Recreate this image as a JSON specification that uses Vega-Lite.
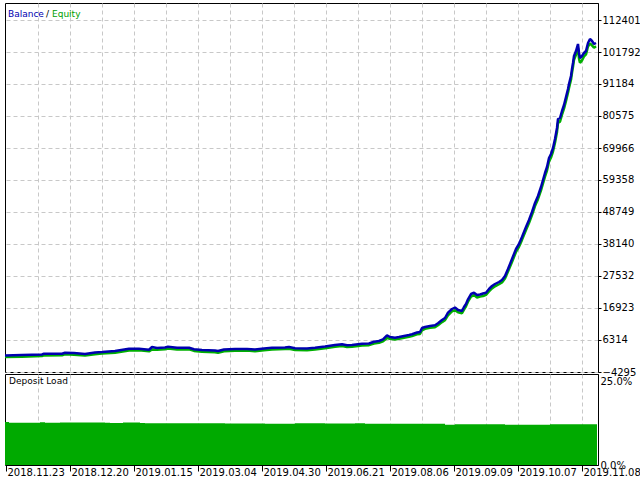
{
  "$schema": "https://vega.github.io/schema/vega-lite/v6.json",
  "background": "white",
  "padding": {"left": 3, "top": 2, "right": 0, "bottom": 0},
  "autosize": {"type": "pad"},
  "bounds": "flush",
  "spacing": 2,
  "config": {
    "view": {"stroke": "black", "strokeWidth": 1},
    "font": "DejaVu Sans",
    "axis": {
      "labelFont": "DejaVu Sans",
      "labelFontSize": 10,
      "labelColor": "black",
      "gridColor": "#c8c8c8",
      "gridDash": [4, 3],
      "gridWidth": 1,
      "domainColor": "black",
      "tickColor": "black",
      "labelOverlap": false,
      "labelFlush": false,
      "labelBound": false
    }
  },
  "datasets": {
    "curve": [
      {"deal": 0, "balance": 1175, "equity": 700},
      {"deal": 17, "balance": 1341, "equity": 800},
      {"deal": 37, "balance": 1507, "equity": 1000},
      {"deal": 39, "balance": 1772, "equity": 1200},
      {"deal": 57, "balance": 1772, "equity": 1250},
      {"deal": 60, "balance": 2103, "equity": 1550},
      {"deal": 69, "balance": 2004, "equity": 1450},
      {"deal": 80, "balance": 1672, "equity": 1150},
      {"deal": 90, "balance": 2170, "equity": 1600},
      {"deal": 97, "balance": 2335, "equity": 1800},
      {"deal": 110, "balance": 2667, "equity": 2100},
      {"deal": 124, "balance": 3429, "equity": 2850},
      {"deal": 134, "balance": 3429, "equity": 2900},
      {"deal": 144, "balance": 3098, "equity": 2550},
      {"deal": 147, "balance": 3993, "equity": 3200},
      {"deal": 152, "balance": 3662, "equity": 3100},
      {"deal": 160, "balance": 3827, "equity": 3250},
      {"deal": 163, "balance": 4093, "equity": 3500},
      {"deal": 172, "balance": 3761, "equity": 3200},
      {"deal": 184, "balance": 3761, "equity": 3200},
      {"deal": 189, "balance": 3231, "equity": 2700},
      {"deal": 197, "balance": 2998, "equity": 2450},
      {"deal": 210, "balance": 2833, "equity": 2250},
      {"deal": 213, "balance": 2667, "equity": 2100},
      {"deal": 219, "balance": 3164, "equity": 2600},
      {"deal": 230, "balance": 3330, "equity": 2750},
      {"deal": 242, "balance": 3330, "equity": 2800},
      {"deal": 250, "balance": 3164, "equity": 2600},
      {"deal": 259, "balance": 3496, "equity": 2950},
      {"deal": 267, "balance": 3761, "equity": 3200},
      {"deal": 280, "balance": 3827, "equity": 3300},
      {"deal": 284, "balance": 3993, "equity": 3400},
      {"deal": 290, "balance": 3562, "equity": 3000},
      {"deal": 302, "balance": 3496, "equity": 2950},
      {"deal": 310, "balance": 3761, "equity": 3200},
      {"deal": 320, "balance": 4159, "equity": 3600},
      {"deal": 330, "balance": 4656, "equity": 4050},
      {"deal": 337, "balance": 4888, "equity": 4300},
      {"deal": 342, "balance": 4557, "equity": 4000},
      {"deal": 347, "balance": 4656, "equity": 4100},
      {"deal": 357, "balance": 5087, "equity": 4500},
      {"deal": 364, "balance": 5153, "equity": 4600},
      {"deal": 369, "balance": 5750, "equity": 5150},
      {"deal": 374, "balance": 5982, "equity": 5400},
      {"deal": 378, "balance": 6546, "equity": 5900},
      {"deal": 382, "balance": 7872, "equity": 7000},
      {"deal": 385, "balance": 7308, "equity": 6700},
      {"deal": 390, "balance": 7076, "equity": 6500},
      {"deal": 394, "balance": 7308, "equity": 6700},
      {"deal": 399, "balance": 7640, "equity": 7050},
      {"deal": 404, "balance": 7971, "equity": 7350},
      {"deal": 407, "balance": 8203, "equity": 7600},
      {"deal": 412, "balance": 8800, "equity": 8200},
      {"deal": 415, "balance": 8966, "equity": 8300},
      {"deal": 417, "balance": 10292, "equity": 9500},
      {"deal": 420, "balance": 10624, "equity": 10000},
      {"deal": 425, "balance": 10955, "equity": 10350},
      {"deal": 430, "balance": 11187, "equity": 10550},
      {"deal": 433, "balance": 11850, "equity": 11200},
      {"deal": 437, "balance": 12944, "equity": 12250},
      {"deal": 440, "balance": 13607, "equity": 12900},
      {"deal": 443, "balance": 15364, "equity": 14500},
      {"deal": 447, "balance": 16591, "equity": 15800},
      {"deal": 450, "balance": 17088, "equity": 16200},
      {"deal": 453, "balance": 16259, "equity": 15500},
      {"deal": 457, "balance": 15928, "equity": 15200},
      {"deal": 459, "balance": 17254, "equity": 16400},
      {"deal": 461, "balance": 18248, "equity": 17500},
      {"deal": 463, "balance": 19807, "equity": 19000},
      {"deal": 466, "balance": 21564, "equity": 20700},
      {"deal": 469, "balance": 21995, "equity": 21200},
      {"deal": 472, "balance": 21232, "equity": 20400},
      {"deal": 475, "balance": 21398, "equity": 20700},
      {"deal": 478, "balance": 21729, "equity": 20900},
      {"deal": 481, "balance": 21995, "equity": 21300},
      {"deal": 484, "balance": 23221, "equity": 22400},
      {"deal": 487, "balance": 24216, "equity": 23400},
      {"deal": 490, "balance": 24879, "equity": 24100},
      {"deal": 494, "balance": 25542, "equity": 24800},
      {"deal": 497, "balance": 26205, "equity": 25400},
      {"deal": 500, "balance": 27531, "equity": 26700},
      {"deal": 503, "balance": 29852, "equity": 29000},
      {"deal": 507, "balance": 33167, "equity": 32200},
      {"deal": 511, "balance": 36482, "equity": 35500},
      {"deal": 514, "balance": 38140, "equity": 37200},
      {"deal": 517, "balance": 40460, "equity": 39500},
      {"deal": 521, "balance": 43776, "equity": 42800},
      {"deal": 524, "balance": 46096, "equity": 45100},
      {"deal": 527, "balance": 48748, "equity": 47700},
      {"deal": 530, "balance": 51732, "equity": 50700},
      {"deal": 533, "balance": 54053, "equity": 53000},
      {"deal": 536, "balance": 57036, "equity": 55900},
      {"deal": 538, "balance": 59357, "equity": 58200},
      {"deal": 540, "balance": 61678, "equity": 60500},
      {"deal": 542, "balance": 63667, "equity": 62500},
      {"deal": 544, "balance": 66650, "equity": 65400},
      {"deal": 546, "balance": 67976, "equity": 66800},
      {"deal": 548, "balance": 69966, "equity": 68800},
      {"deal": 550, "balance": 72949, "equity": 71700},
      {"deal": 552, "balance": 76596, "equity": 75300},
      {"deal": 553, "balance": 79580, "equity": 78300},
      {"deal": 555, "balance": 79911, "equity": 78700},
      {"deal": 557, "balance": 82232, "equity": 81000},
      {"deal": 559, "balance": 84221, "equity": 83000},
      {"deal": 561, "balance": 86873, "equity": 85600},
      {"deal": 563, "balance": 89525, "equity": 88300},
      {"deal": 564, "balance": 91183, "equity": 89900},
      {"deal": 566, "balance": 93835, "equity": 92600},
      {"deal": 567, "balance": 96156, "equity": 94900},
      {"deal": 568, "balance": 98145, "equity": 96900},
      {"deal": 569, "balance": 100465, "equity": 99200},
      {"deal": 571, "balance": 102123, "equity": 100900},
      {"deal": 573, "balance": 104444, "equity": 103200},
      {"deal": 574, "balance": 101460, "equity": 99600},
      {"deal": 575, "balance": 99802, "equity": 98200},
      {"deal": 577, "balance": 100465, "equity": 99000},
      {"deal": 579, "balance": 101460, "equity": 100300},
      {"deal": 581, "balance": 102123, "equity": 101000},
      {"deal": 583, "balance": 104775, "equity": 103600},
      {"deal": 585, "balance": 106101, "equity": 104600},
      {"deal": 587, "balance": 105438, "equity": 104000},
      {"deal": 589, "balance": 104444, "equity": 103200},
      {"deal": 591, "balance": 104775, "equity": 103700}
    ],
    "load": [
      {"deal": 0, "load": 12.9},
      {"deal": 4, "load": 12.7},
      {"deal": 35, "load": 12.8},
      {"deal": 40, "load": 12.65},
      {"deal": 55, "load": 12.75},
      {"deal": 100, "load": 12.7},
      {"deal": 105, "load": 12.6},
      {"deal": 118, "load": 12.75},
      {"deal": 135, "load": 12.6},
      {"deal": 140, "load": 12.55},
      {"deal": 170, "load": 12.5},
      {"deal": 200, "load": 12.55},
      {"deal": 220, "load": 12.45},
      {"deal": 260, "load": 12.4},
      {"deal": 290, "load": 12.5},
      {"deal": 320, "load": 12.45},
      {"deal": 350, "load": 12.5},
      {"deal": 360, "load": 12.35},
      {"deal": 420, "load": 12.35},
      {"deal": 440, "load": 12.1},
      {"deal": 450, "load": 12.25},
      {"deal": 470, "load": 12.2},
      {"deal": 480, "load": 12.25},
      {"deal": 500, "load": 12.1},
      {"deal": 540, "load": 12.1},
      {"deal": 545, "load": 12.25},
      {"deal": 590, "load": 12.2},
      {"deal": 592, "load": 12.2}
    ],
    "legendText": [
      {"label": "Balance", "series": "Balance"},
      {"label": "/", "series": "sep"},
      {"label": "Equity", "series": "Equity"}
    ]
  },
  "vconcat": [
    {
      "width": 593,
      "height": 369,
      "layer": [
        {
          "data": {"name": "curve"},
          "mark": {"type": "line", "strokeWidth": 2.5, "strokeJoin": "bevel"},
          "encoding": {
            "x": {
              "field": "deal", "type": "quantitative",
              "scale": {"domain": [0, 593], "nice": false, "zero": false},
              "axis": {
                "orient": "bottom", "title": null, "tickCount": 40,
                "values": [33, 65, 97, 129, 161, 193, 225, 257, 289, 321, 353, 385, 417, 449, 481, 513, 545, 577],
                "grid": true, "labels": false, "ticks": false, "domain": false
              }
            },
            "y": {
              "field": "equity", "type": "quantitative",
              "scale": {"domain": [-4295, 118037], "nice": false, "zero": false},
              "axis": {
                "orient": "right", "title": null, "tickCount": 40,
                "values": [-4295, 6314, 16923, 27532, 38140, 48749, 59358, 69966, 80575, 91184, 101792, 112401],
                "format": "d", "tickSize": 3, "labelPadding": 1, "grid": true,
                "labelOverlap": false,
                "labelBaseline": "middle", "labelAlign": "left"
              }
            },
            "color": {
              "datum": "Equity", "type": "nominal",
              "scale": {"domain": ["Balance", "Equity", "sep"], "range": ["#0000b0", "#00b000", "#000000"]},
              "legend": null
            }
          }
        },
        {
          "data": {"name": "curve"},
          "mark": {"type": "line", "strokeWidth": 2.5, "strokeJoin": "bevel"},
          "encoding": {
            "x": {"field": "deal", "type": "quantitative"},
            "y": {"field": "balance", "type": "quantitative"},
            "color": {"datum": "Balance", "type": "nominal", "legend": null}
          }
        },
        {
          "data": {"name": "legendText"},
          "transform": [{"filter": "datum.series == 'Balance'"}],
          "mark": {"type": "text", "align": "left", "baseline": "middle", "font": "DejaVu Sans", "fontSize": 9, "x": 3, "y": 11, "color": "#0000b0"},
          "encoding": {"text": {"field": "label"}}
        },
        {
          "data": {"name": "legendText"},
          "transform": [{"filter": "datum.series == 'sep'"}],
          "mark": {"type": "text", "align": "left", "baseline": "middle", "font": "DejaVu Sans", "fontSize": 9, "x": 41, "y": 11, "color": "#000000"},
          "encoding": {"text": {"field": "label"}}
        },
        {
          "data": {"name": "legendText"},
          "transform": [{"filter": "datum.series == 'Equity'"}],
          "mark": {"type": "text", "align": "left", "baseline": "middle", "font": "DejaVu Sans", "fontSize": 9, "x": 47, "y": 11, "color": "#00a000"},
          "encoding": {"text": {"field": "label"}}
        }
      ]
    },
    {
      "width": 593,
      "height": 91,
      "data": {"name": "load"},
      "title": {
        "text": "Deposit Load", "anchor": "start", "orient": "top", "frame": "group",
        "offset": -19, "dx": 4, "baseline": "alphabetic",
        "font": "DejaVu Sans", "fontSize": 9, "fontWeight": "normal", "color": "black"
      },
      "mark": {"type": "area", "interpolate": "step-after", "color": "#00aa00"},
      "encoding": {
        "x": {
          "field": "deal", "type": "quantitative",
          "scale": {"domain": [0, 593], "nice": false, "zero": false},
          "axis": {
            "orient": "bottom", "title": null, "tickCount": 40,
            "values": [1, 33, 65, 97, 129, 161, 193, 225, 257, 289, 321, 353, 385, 417, 449, 481, 513, 545, 577],
            "grid": true, "domain": false, "labelOverlap": false,
            "gridOpacity": {"condition": {"test": "datum.value == 1", "value": 0}, "value": 1},
            "tickOpacity": {"condition": {"test": "(datum.value - 1) % 64 == 0", "value": 1}, "value": 0},
            "tickSize": 6,
            "labelAlign": "left", "labelBaseline": "top", "labelPadding": -4, "labelOffset": 1,
            "labelExpr": "(datum.value - 1) % 64 == 0 ? ['2018.11.23','2018.12.20','2019.01.15','2019.03.04','2019.04.30','2019.06.21','2019.08.06','2019.09.09','2019.10.07','2019.11.08'][(datum.value - 1) / 64] : ''"
          }
        },
        "y": {
          "field": "load", "type": "quantitative",
          "scale": {"domain": [0, 27.3], "nice": false, "zero": true},
          "axis": {
            "orient": "right", "title": null, "values": [0, 25],
            "labelExpr": "format(datum.value, '.1f') + '%'",
            "ticks": false, "grid": false, "labelPadding": 2, "labelOverlap": false,
            "labelBaseline": "middle", "labelAlign": "left"
          }
        }
      }
    }
  ]
}
